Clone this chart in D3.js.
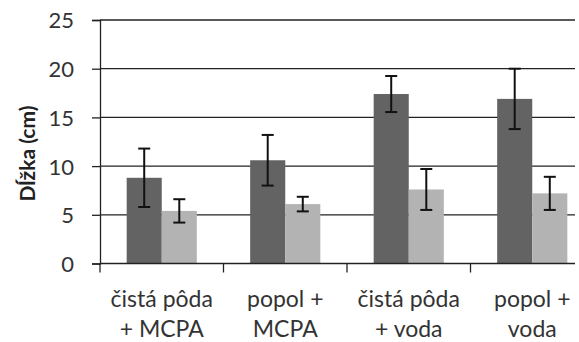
<!DOCTYPE html>
<html>
<head>
<meta charset="utf-8">
<script src="https://cdn.jsdelivr.net/npm/d3@7"></script>
<style>
  html, body { margin: 0; padding: 0; background: #fff; }
  svg { display: block; }
</style>
</head>
<body>
<svg id="chart" width="579" height="342"></svg>
<script>
// Data
const categories = [["čistá pôda", "+ MCPA"], ["popol +", "MCPA"], ["čistá pôda", "+ voda"], ["popol +", "voda"]];
const darkValues = [8.8, 10.6, 17.4, 16.9];
const darkErrors = [3.0, 2.6, 1.85, 3.1];
const lightValues = [5.4, 6.1, 7.6, 7.2];
const lightErrors = [1.2, 0.75, 2.1, 1.7];
const yTicks = [0, 5, 10, 15, 20, 25];

const svg = d3.select("#chart");
const font = "Lato, 'Open Sans', sans-serif";

const mLeft = 100, plotRight = 575, mTop = 20, mBottom = 263.5;
const x = d3.scaleBand().domain(d3.range(categories.length)).range([mLeft, mLeft + 4 * 123.5]);
const y = d3.scaleLinear().domain([0, 25]).range([mBottom, mTop]);
const barW = x.bandwidth() * 0.284;
const off = (x.bandwidth() - 2 * barW) / 2;

// gridlines
svg.append("g").selectAll("line").data(yTicks.filter(d => d > 0)).join("line")
  .attr("x1", mLeft).attr("x2", plotRight)
  .attr("y1", d => y(d)).attr("y2", d => y(d))
  .attr("stroke", "#222").attr("stroke-width", 1.3);

// bars
const series = [
  { values: darkValues, errors: darkErrors, color: "#636363", i: 0 },
  { values: lightValues, errors: lightErrors, color: "#b3b3b3", i: 1 }
];
series.forEach(s => {
  const g = svg.append("g");
  g.selectAll("rect").data(s.values).join("rect")
    .attr("x", (d, i) => x(i) + off + s.i * barW)
    .attr("y", d => y(d))
    .attr("width", barW)
    .attr("height", d => mBottom - y(d))
    .attr("fill", s.color);
});

// axes
const yAxis = svg.append("g").attr("transform", `translate(${mLeft},0)`)
  .call(d3.axisLeft(y).tickValues(yTicks).tickSize(8).tickPadding(18));
yAxis.select(".domain").attr("stroke", "#222").attr("stroke-width", 1.3);
yAxis.selectAll(".tick line").attr("stroke", "#222").attr("stroke-width", 1.3);
yAxis.selectAll("text").attr("font-family", font).attr("font-size", 22).attr("fill", "#333")
  .attr("dy", "0.36em");

svg.append("line").attr("x1", mLeft).attr("x2", plotRight).attr("y1", mBottom).attr("y2", mBottom)
  .attr("stroke", "#222").attr("stroke-width", 1.3);
const bounds = d3.range(categories.length).map(i => x(i));
svg.append("g").selectAll("line").data(bounds).join("line")
  .attr("x1", d => d).attr("x2", d => d).attr("y1", mBottom).attr("y2", mBottom + 9)
  .attr("stroke", "#222").attr("stroke-width", 1.3);

// error bars
series.forEach(s => {
  const g = svg.append("g").attr("stroke", "#111").attr("stroke-width", 2);
  s.values.forEach((v, i) => {
    const cx = x(i) + off + s.i * barW + barW / 2;
    const hi = y(v + s.errors[i]), lo = y(v - s.errors[i]);
    g.append("line").attr("x1", cx).attr("x2", cx).attr("y1", hi).attr("y2", lo);
    g.append("line").attr("x1", cx - 6).attr("x2", cx + 6).attr("y1", hi).attr("y2", hi);
    g.append("line").attr("x1", cx - 6).attr("x2", cx + 6).attr("y1", lo).attr("y2", lo);
  });
});

// category labels
const lbl = svg.append("g").selectAll("text").data(categories).join("text")
  .attr("font-family", font).attr("font-size", 23).attr("fill", "#333")
  .attr("text-anchor", "middle");
lbl.each(function(d, i) {
  const t = d3.select(this);
  d.forEach((line, j) => {
    t.append("tspan").attr("x", x(i) + x.bandwidth() / 2).attr("y", 306.5 + j * 30.5).text(line);
  });
});

// y title
svg.append("text")
  .attr("transform", `translate(35,${(100 + 207) / 2}) rotate(-90)`)
  .attr("text-anchor", "middle")
  .attr("font-family", font).attr("font-size", 21).attr("font-weight", "bold").attr("fill", "#222")
  .text("Dĺžka (cm)");
</script>
</body>
</html>
